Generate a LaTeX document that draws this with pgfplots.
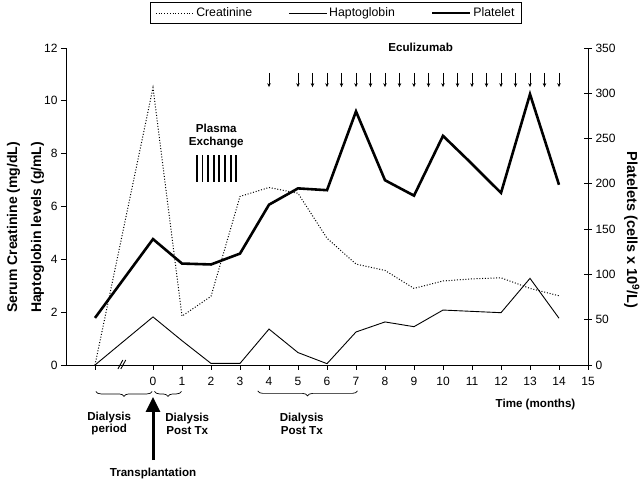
\documentclass[border=0pt]{standalone}
\usepackage{fontspec}
\setmainfont{Liberation Sans}
\usepackage{pgfplots}
\pgfplotsset{compat=1.18}
\usetikzlibrary{decorations.pathreplacing, arrows.meta}
\newcommand\fs[1]{\fontsize{#1}{#1}\selectfont}
\begin{document}
\begin{tikzpicture}[x=1pt,y=1pt]
\useasboundingbox (0,0) rectangle (640,479);
\begin{axis}[
  at={(66pt,114pt)}, anchor=south west,
  scale only axis, width=522pt, height=317pt,
  xmin=-3, xmax=15, ymin=0, ymax=12,
  axis x line*=bottom, axis y line*=left,
  axis line style={line width=0.9pt},
  xtick={-2,0,1,2,3,4,5,6,7,8,9,10,11,12,13,14,15},
  xticklabels={,0,1,2,3,4,5,6,7,8,9,10,11,12,13,14,15},
  ytick={0,2,4,6,8,10,12},
  tick align=outside,
  major tick length=5pt,
  tick style={line width=0.8pt, black},
  ticklabel style={font=\fs{12}},
  xticklabel style={yshift=-4pt},
  /pgf/number format/assume math mode=true,
  clip=false,
  ylabel={Serum Creatinine (mg/dL)\\[10pt]Haptoglobin levels (g/mL)},
  ylabel style={at={(axis description cs:-0.0776,0.434)}, anchor=center, align=center, font=\bfseries\fs{14}},
]
\addplot[line width=1pt, dash pattern=on 1pt off 1.8pt] coordinates {
(-2,0) (0,10.5) (1,1.85) (2,2.6) (3,6.38) (4,6.72) (5,6.5) (6,4.8) (7,3.82) (8,3.58) (9,2.9) (10,3.18) (11,3.26) (12,3.3) (13,2.9) (14,2.62)};
\addplot[line width=0.9pt] coordinates {
(-2,0) (0,1.82) (1,0.92) (2,0.06) (3,0.06) (4,1.36) (5,0.47) (6,0.05) (7,1.25) (8,1.63) (9,1.45) (10,2.08) (11,2.03) (12,1.98) (13,3.28) (14,1.77)};
% axis break
\draw[line width=0.9pt] (axis cs:-1.21,-0.15) -- (axis cs:-1.04,0.19);
\draw[line width=0.9pt] (axis cs:-1.11,-0.15) -- (axis cs:-0.94,0.19);
% Eculizumab
\node[font=\bfseries\fs{11.6}] at (axis cs:9.23,12.04) {Eculizumab};
\pgfplotsinvokeforeach{4,5,5.5,6,6.5,7,7.5,8,8.5,9,9.5,10,10.5,11,11.5,12,12.5,13,13.5,14}{
  \draw[line width=0.8pt, -{Stealth[length=4pt,width=3.5pt]}] (axis cs:#1,11.06) -- (axis cs:#1,10.52);
}
% Plasma exchange
\node[font=\bfseries\fs{11.6}] at (axis cs:2.18,8.96) {Plasma};
\node[font=\bfseries\fs{11.6}] at (axis cs:2.18,8.43) {Exchange};
\pgfplotsinvokeforeach{1.51,1.704,1.899,2.093,2.287,2.481,2.676,2.87}{
  \draw[line width=1.8pt] (axis cs:#1,6.94) -- (axis cs:#1,7.95);
}
% x label
\node[font=\bfseries\fs{11.6}] at (axis cs:13.19,-1.48) {Time (months)};
% braces
\draw[decorate, decoration={brace, mirror, amplitude=5pt}, line width=0.7pt] (axis cs:-1.97,-1.0) -- (axis cs:-0.03,-1.0);
\draw[decorate, decoration={brace, mirror, amplitude=5pt}, line width=0.7pt] (axis cs:0.05,-1.0) -- (axis cs:0.98,-1.0);
\draw[decorate, decoration={brace, mirror, amplitude=5pt}, line width=0.7pt] (axis cs:3.61,-0.98) -- (axis cs:7.05,-0.98);
\node[font=\bfseries\fs{11.6}, align=center] at (axis cs:-1.51,-2.22) {Dialysis\\[1pt]period};
\node[font=\bfseries\fs{11.6}, align=center] at (axis cs:1.18,-2.22) {Dialysis\\[1pt]Post Tx};
\node[font=\bfseries\fs{11.6}, align=center] at (axis cs:5.13,-2.22) {Dialysis\\[1pt]Post Tx};
\draw[line width=3pt, -{Triangle[length=15pt,width=14pt]}] (axis cs:0,-3.6) -- (axis cs:0,-1.21);
\node[font=\bfseries\fs{11.6}] at (axis cs:0,-4.1) {Transplantation};
\end{axis}
\begin{axis}[
  at={(66pt,114pt)}, anchor=south west,
  scale only axis, width=522pt, height=317pt,
  xmin=-3, xmax=15, ymin=0, ymax=350,
  axis x line=none, axis y line*=right,
  axis line style={line width=0.9pt},
  ytick={0,50,100,150,200,250,300,350},
  tick align=center,
  major tick length=8pt,
  tick style={line width=0.8pt, black},
  ticklabel style={font=\fs{12}},
  /pgf/number format/assume math mode=true,
  clip=false,
  ylabel={Platelets (cells x 10\textsuperscript{9}/L)},
  ylabel style={at={(axis description cs:1.0837,0.426)}, anchor=center, rotate=180, font=\bfseries\fs{14.5}},
  legend style={at={(0.517,1.1104)}, anchor=center, legend columns=3, draw=black, line width=0.9pt,
    font=\fs{12.3}, inner xsep=5pt, inner ysep=3pt,
    /tikz/every even column/.append style={column sep=34pt}},
  legend image code/.code={\draw[#1] (0pt,0pt) -- (38pt,0pt);},
]
\addlegendimage{line width=1pt, dash pattern=on 1pt off 1.8pt}
\addlegendentry{Creatinine}
\addlegendimage{line width=0.9pt}
\addlegendentry{Haptoglobin}
\addplot[line width=2.6pt] coordinates {
(-2,52) (0,139) (1,112) (2,111) (3,123) (4,177) (5,195) (6,193) (7,280) (8,204) (9,187) (10,253) (11,222) (12,190) (13,299) (14,199)};
\addlegendentry{Platelet}
\end{axis}
\end{tikzpicture}
\end{document}
